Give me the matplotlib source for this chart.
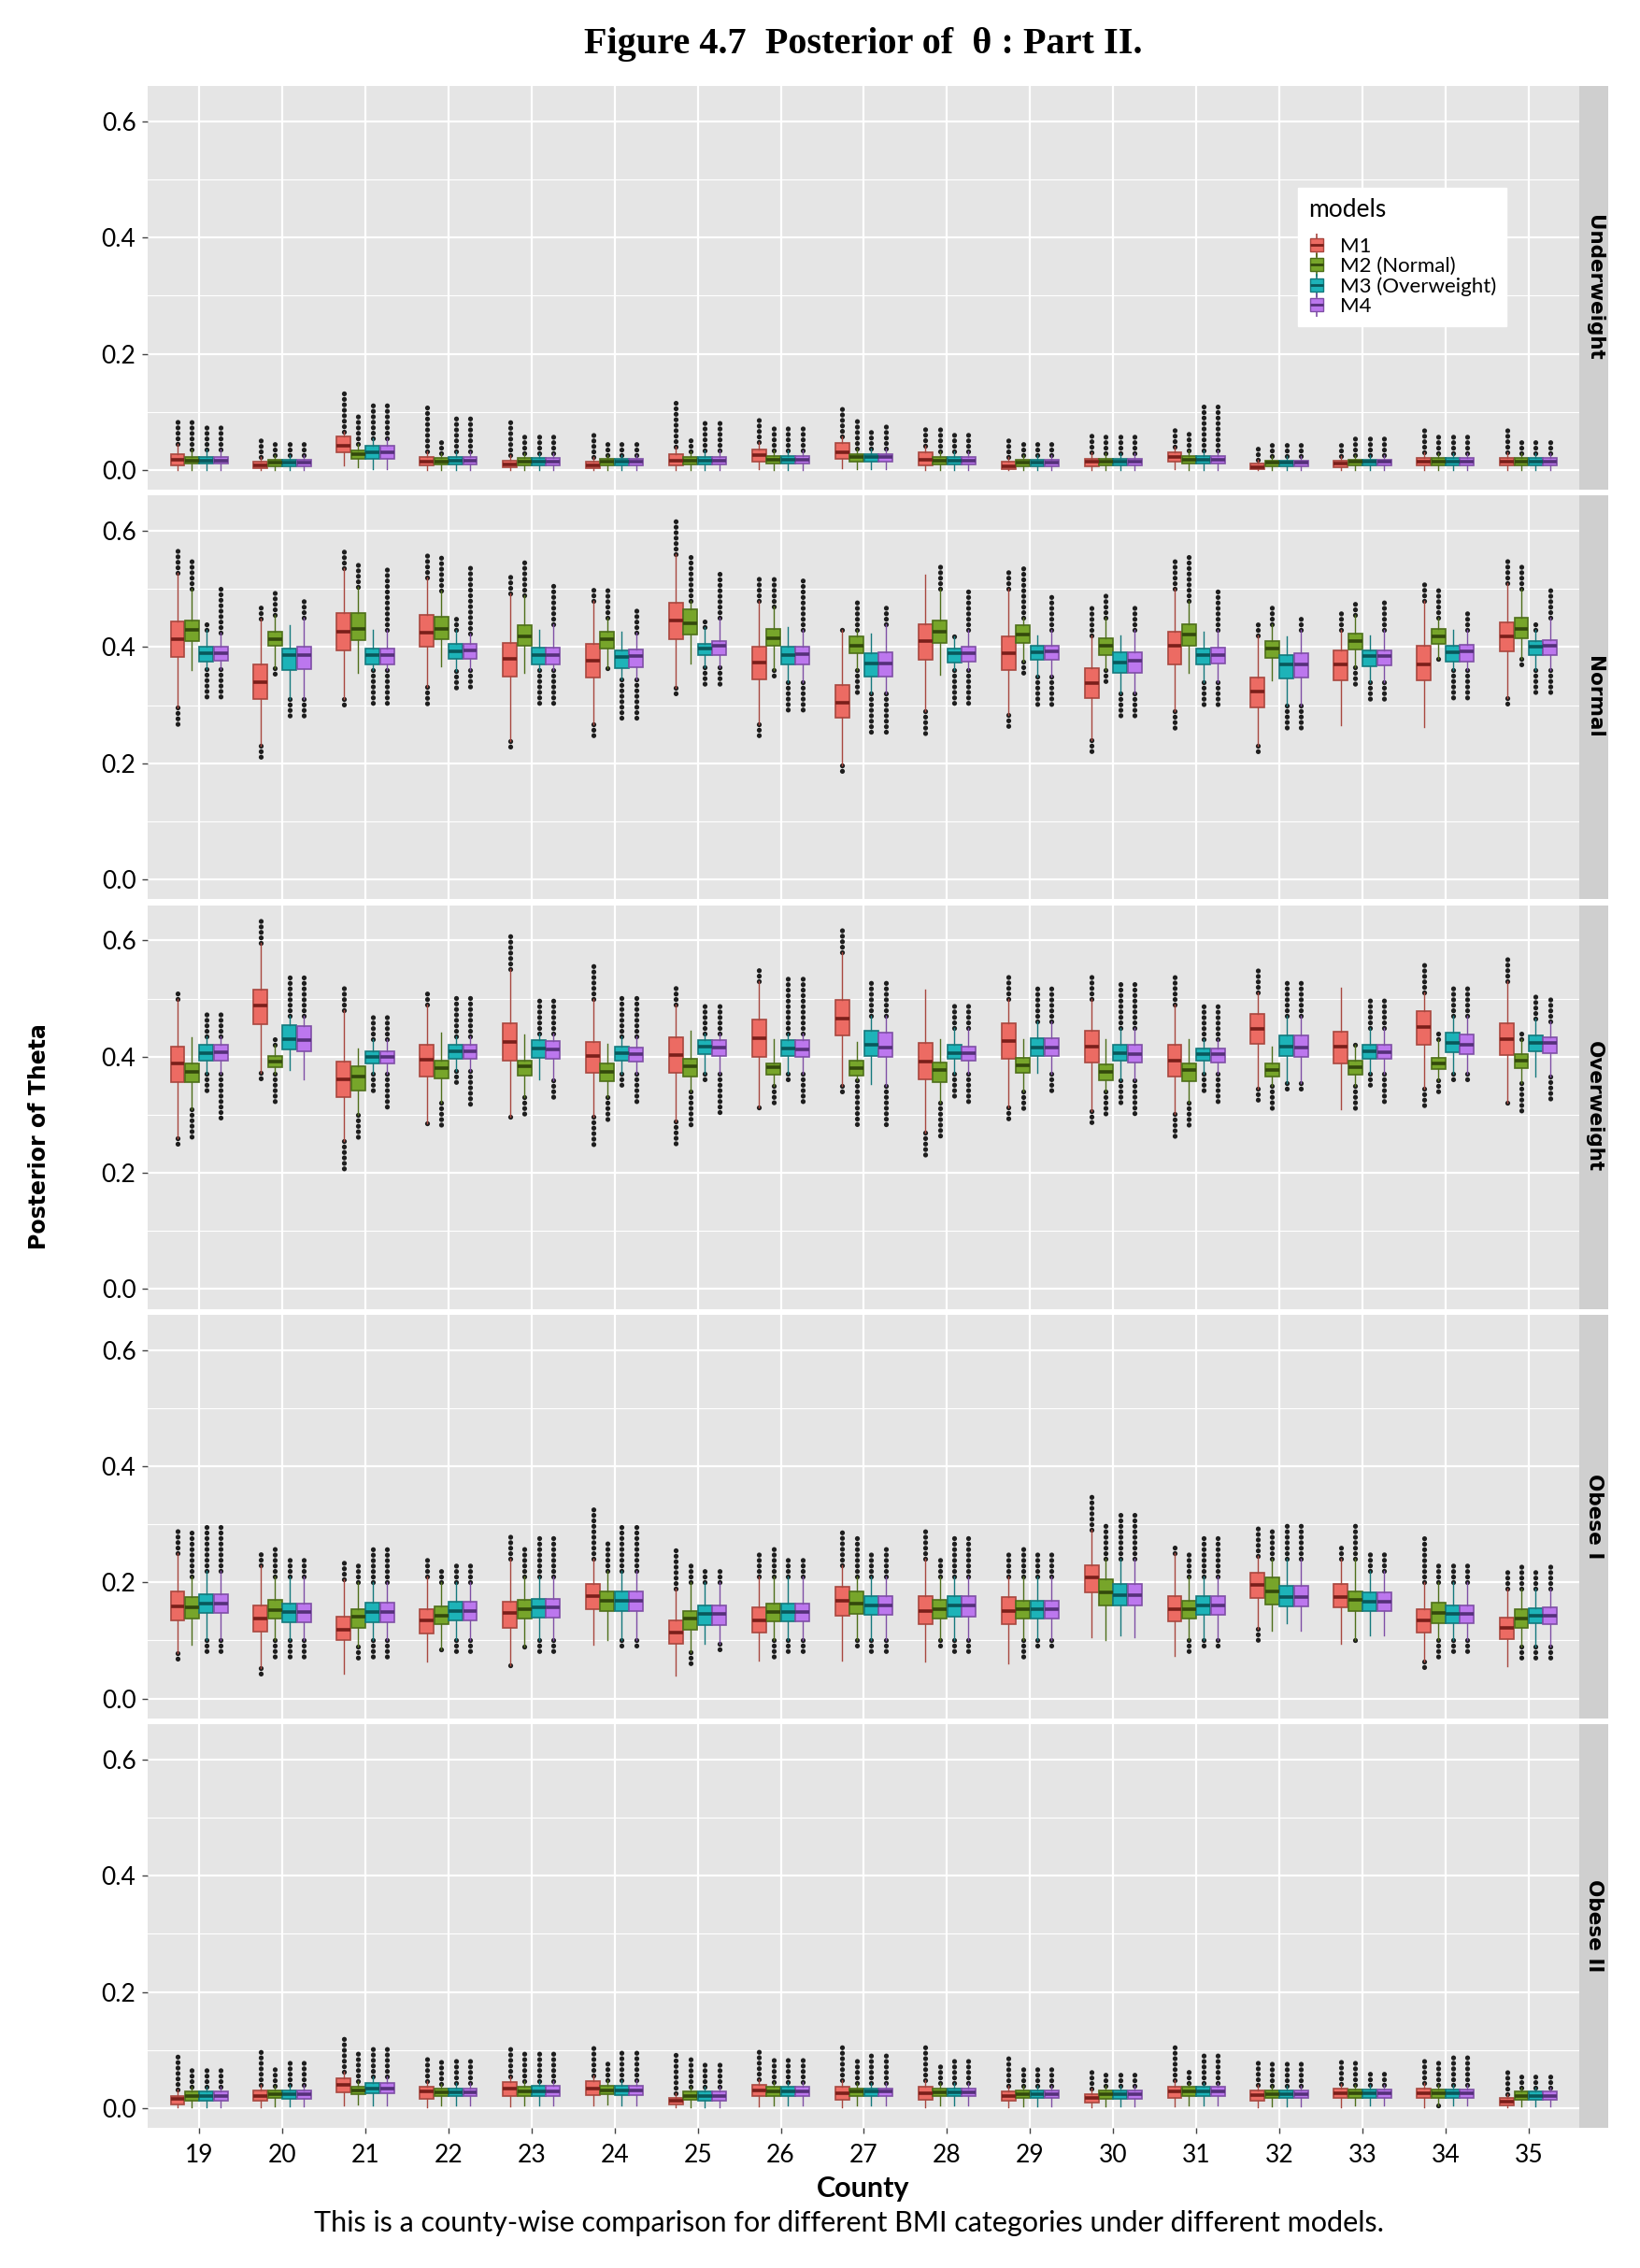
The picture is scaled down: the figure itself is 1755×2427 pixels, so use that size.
import numpy as np
import matplotlib
matplotlib.use("Agg")
import matplotlib.pyplot as plt
from matplotlib.lines import Line2D
from matplotlib.legend_handler import HandlerTuple

counties = list(range(19, 36))
models = ["M1", "M2 (Normal)", "M3 (Overweight)", "M4"]
categories = ["Underweight", "Normal", "Overweight", "Obese I", "Obese II"]

# one row per county:
# (lowest outlier, lower whisker, q1, median, q3, upper whisker, highest outlier)
uw_m1 = [(None, 0.0, 0.008, 0.018, 0.027, 0.045, 0.092), (None, 0.0, 0.003, 0.008, 0.014, 0.022, 0.060),
         (None, 0.008, 0.030, 0.042, 0.057, 0.065, 0.138), (None, 0.0, 0.008, 0.015, 0.022, 0.032, 0.114),
         (None, 0.0, 0.004, 0.009, 0.016, 0.025, 0.090), (None, 0.0, 0.003, 0.008, 0.014, 0.022, 0.065),
         (None, 0.0, 0.008, 0.016, 0.027, 0.040, 0.117), (None, 0.002, 0.014, 0.026, 0.035, 0.048, 0.087),
         (None, 0.003, 0.019, 0.030, 0.046, 0.058, 0.114), (None, 0.0, 0.008, 0.018, 0.030, 0.042, 0.071),
         (None, 0.0, 0.002, 0.007, 0.014, 0.022, 0.052), (None, 0.0, 0.007, 0.014, 0.019, 0.030, 0.062),
         (None, 0.002, 0.014, 0.022, 0.030, 0.040, 0.076), (None, 0.0, 0.002, 0.005, 0.011, 0.018, 0.043),
         (None, 0.0, 0.005, 0.011, 0.016, 0.024, 0.046), (None, 0.0, 0.008, 0.015, 0.020, 0.030, 0.073),
         (None, 0.0, 0.008, 0.015, 0.020, 0.030, 0.073)]
uw_m2 = [(None, 0.0, 0.011, 0.016, 0.022, 0.035, 0.087), (None, 0.0, 0.007, 0.012, 0.018, 0.026, 0.046),
         (None, 0.004, 0.019, 0.027, 0.033, 0.045, 0.100), (None, 0.0, 0.009, 0.015, 0.020, 0.028, 0.052),
         (None, 0.0, 0.008, 0.015, 0.020, 0.028, 0.057), (None, 0.0, 0.008, 0.014, 0.019, 0.026, 0.046),
         (None, 0.0, 0.009, 0.016, 0.022, 0.032, 0.057), (None, 0.0, 0.011, 0.018, 0.024, 0.034, 0.073),
         (None, 0.002, 0.015, 0.022, 0.027, 0.036, 0.087), (None, 0.0, 0.009, 0.016, 0.022, 0.032, 0.071),
         (None, 0.0, 0.007, 0.012, 0.018, 0.026, 0.049), (None, 0.0, 0.008, 0.014, 0.019, 0.028, 0.062),
         (None, 0.0, 0.011, 0.017, 0.024, 0.034, 0.071), (None, 0.0, 0.007, 0.012, 0.016, 0.024, 0.049),
         (None, 0.0, 0.008, 0.014, 0.018, 0.026, 0.057), (None, 0.0, 0.008, 0.015, 0.020, 0.028, 0.062),
         (None, 0.0, 0.008, 0.015, 0.020, 0.028, 0.054)]
uw_m3 = [(None, 0.0, 0.011, 0.016, 0.022, 0.035, 0.079), (None, 0.0, 0.007, 0.012, 0.018, 0.026, 0.049),
         (None, 0.002, 0.019, 0.030, 0.041, 0.055, 0.114), (None, 0.0, 0.009, 0.016, 0.022, 0.032, 0.092),
         (None, 0.0, 0.008, 0.015, 0.020, 0.028, 0.062), (None, 0.0, 0.008, 0.014, 0.019, 0.026, 0.046),
         (None, 0.0, 0.009, 0.016, 0.023, 0.034, 0.090), (None, 0.0, 0.011, 0.018, 0.024, 0.034, 0.073),
         (None, 0.002, 0.015, 0.022, 0.027, 0.036, 0.073), (None, 0.0, 0.009, 0.016, 0.022, 0.032, 0.068),
         (None, 0.0, 0.007, 0.012, 0.018, 0.026, 0.046), (None, 0.0, 0.008, 0.014, 0.019, 0.028, 0.062),
         (None, 0.0, 0.011, 0.017, 0.024, 0.034, 0.114), (None, 0.0, 0.007, 0.012, 0.016, 0.024, 0.046),
         (None, 0.0, 0.008, 0.014, 0.018, 0.026, 0.054), (None, 0.0, 0.008, 0.015, 0.020, 0.028, 0.060),
         (None, 0.0, 0.008, 0.015, 0.020, 0.028, 0.052)]
uw_m4 = [(None, 0.0, 0.011, 0.016, 0.022, 0.035, 0.079), (None, 0.0, 0.007, 0.012, 0.018, 0.026, 0.049),
         (None, 0.002, 0.019, 0.030, 0.041, 0.055, 0.114), (None, 0.0, 0.009, 0.016, 0.022, 0.032, 0.092),
         (None, 0.0, 0.008, 0.015, 0.020, 0.028, 0.062), (None, 0.0, 0.008, 0.014, 0.019, 0.026, 0.046),
         (None, 0.0, 0.009, 0.016, 0.023, 0.034, 0.090), (None, 0.0, 0.011, 0.018, 0.024, 0.034, 0.073),
         (None, 0.002, 0.015, 0.022, 0.027, 0.036, 0.079), (None, 0.0, 0.009, 0.016, 0.022, 0.032, 0.068),
         (None, 0.0, 0.007, 0.012, 0.018, 0.026, 0.049), (None, 0.0, 0.008, 0.014, 0.019, 0.028, 0.062),
         (None, 0.0, 0.011, 0.017, 0.024, 0.034, 0.114), (None, 0.0, 0.007, 0.012, 0.016, 0.024, 0.046),
         (None, 0.0, 0.008, 0.014, 0.018, 0.026, 0.054), (None, 0.0, 0.008, 0.015, 0.020, 0.028, 0.060),
         (None, 0.0, 0.008, 0.015, 0.020, 0.028, 0.052)]

nm_m1 = [(0.265, 0.297, 0.383, 0.413, 0.445, 0.528, 0.568), (0.209, 0.230, 0.310, 0.339, 0.371, 0.449, 0.469),
         (0.295, 0.311, 0.395, 0.427, 0.458, 0.536, 0.568), (0.295, 0.332, 0.401, 0.425, 0.456, 0.520, 0.558),
         (0.228, 0.238, 0.349, 0.380, 0.408, 0.493, 0.523), (0.246, 0.268, 0.347, 0.377, 0.406, 0.480, 0.501),
         (0.313, 0.330, 0.414, 0.446, 0.476, 0.560, 0.619), (0.246, 0.268, 0.344, 0.374, 0.401, 0.480, 0.523),
         (0.182, 0.196, 0.278, 0.305, 0.335, 0.429, 0.435), (0.244, 0.290, 0.379, 0.410, 0.439, 0.525, None),
         (0.263, 0.284, 0.360, 0.389, 0.419, 0.500, 0.537), (0.214, 0.240, 0.312, 0.338, 0.364, 0.420, 0.472),
         (0.257, 0.290, 0.371, 0.402, 0.426, 0.500, 0.557), (0.220, 0.230, 0.297, 0.324, 0.348, 0.420, 0.445),
         (None, 0.265, 0.343, 0.371, 0.394, 0.430, 0.466), (None, 0.263, 0.343, 0.371, 0.402, 0.480, 0.514),
         (0.297, 0.313, 0.392, 0.418, 0.442, 0.510, 0.552)]
nm_m2 = [(None, 0.360, 0.410, 0.429, 0.446, 0.501, 0.549), (0.348, 0.364, 0.402, 0.413, 0.426, 0.455, 0.496),
         (None, 0.356, 0.412, 0.432, 0.458, 0.504, 0.549), (None, 0.367, 0.413, 0.432, 0.453, 0.498, 0.560),
         (None, 0.356, 0.403, 0.419, 0.437, 0.490, 0.552), (0.357, 0.364, 0.397, 0.413, 0.427, 0.450, 0.506),
         (None, 0.372, 0.421, 0.441, 0.465, 0.480, 0.560), (0.351, 0.360, 0.403, 0.416, 0.431, 0.470, 0.523),
         (0.319, 0.360, 0.389, 0.403, 0.418, 0.430, 0.478), (None, 0.353, 0.407, 0.427, 0.446, 0.500, 0.547),
         (0.348, 0.375, 0.407, 0.422, 0.437, 0.450, 0.539), (0.338, 0.360, 0.387, 0.402, 0.415, 0.450, 0.493),
         (None, 0.356, 0.403, 0.421, 0.439, 0.480, 0.560), (None, 0.343, 0.382, 0.397, 0.410, 0.440, 0.469),
         (0.330, 0.365, 0.396, 0.410, 0.423, 0.455, 0.480), (0.372, 0.380, 0.405, 0.418, 0.431, 0.450, 0.506),
         (0.364, 0.380, 0.415, 0.432, 0.450, 0.500, 0.539)]
nm_m3 = [(0.308, 0.362, 0.375, 0.389, 0.401, 0.429, 0.439), (0.279, 0.311, 0.361, 0.387, 0.398, 0.437, None),
         (0.300, 0.360, 0.371, 0.386, 0.397, 0.429, None), (0.327, 0.359, 0.380, 0.393, 0.405, 0.429, 0.451),
         (0.295, 0.360, 0.371, 0.387, 0.399, 0.429, None), (0.273, 0.345, 0.364, 0.383, 0.394, 0.426, None),
         (0.330, 0.365, 0.387, 0.398, 0.405, 0.434, 0.445), (0.284, 0.340, 0.370, 0.387, 0.401, 0.435, None),
         (0.249, 0.320, 0.349, 0.372, 0.389, 0.423, None), (0.300, 0.360, 0.374, 0.389, 0.397, 0.418, 0.423),
         (0.297, 0.350, 0.378, 0.391, 0.402, 0.420, None), (0.273, 0.320, 0.356, 0.374, 0.391, 0.420, None),
         (0.297, 0.340, 0.371, 0.386, 0.397, 0.426, None), (0.260, 0.300, 0.346, 0.370, 0.387, 0.418, None),
         (0.311, 0.340, 0.367, 0.384, 0.395, 0.420, None), (0.311, 0.360, 0.375, 0.391, 0.402, 0.430, None),
         (0.320, 0.360, 0.387, 0.401, 0.410, 0.430, 0.447)]
nm_m4 = [(0.308, 0.362, 0.376, 0.390, 0.401, 0.425, 0.506), (0.279, 0.311, 0.362, 0.387, 0.401, 0.450, 0.482),
         (0.300, 0.360, 0.371, 0.386, 0.397, 0.429, 0.539), (0.330, 0.360, 0.380, 0.394, 0.405, 0.423, 0.540),
         (0.295, 0.360, 0.371, 0.387, 0.399, 0.440, 0.509), (0.273, 0.345, 0.366, 0.385, 0.396, 0.425, 0.464),
         (0.330, 0.365, 0.387, 0.402, 0.410, 0.450, 0.531), (0.284, 0.340, 0.370, 0.388, 0.401, 0.430, 0.520),
         (0.249, 0.320, 0.349, 0.372, 0.391, 0.440, 0.473), (0.300, 0.360, 0.375, 0.389, 0.401, 0.430, 0.497),
         (0.297, 0.350, 0.378, 0.393, 0.403, 0.430, 0.490), (0.273, 0.320, 0.356, 0.376, 0.391, 0.430, 0.472),
         (0.297, 0.340, 0.372, 0.387, 0.399, 0.430, 0.501), (0.260, 0.300, 0.347, 0.371, 0.389, 0.430, 0.455),
         (0.311, 0.340, 0.368, 0.385, 0.395, 0.430, 0.480), (0.311, 0.360, 0.375, 0.392, 0.404, 0.430, 0.464),
         (0.320, 0.360, 0.387, 0.402, 0.412, 0.450, 0.501)]

ow_m1 = [(0.243, 0.259, 0.356, 0.389, 0.418, 0.500, 0.516), (0.362, 0.372, 0.456, 0.488, 0.516, 0.596, 0.634),
         (0.206, 0.254, 0.330, 0.361, 0.391, 0.480, 0.524), (0.278, 0.286, 0.365, 0.395, 0.421, 0.490, 0.516),
         (0.291, 0.297, 0.393, 0.425, 0.457, 0.550, 0.612), (0.249, 0.297, 0.372, 0.401, 0.426, 0.500, 0.564),
         (0.246, 0.289, 0.373, 0.403, 0.433, 0.490, 0.527), (0.307, 0.313, 0.400, 0.432, 0.464, 0.530, 0.556),
         (0.332, 0.350, 0.436, 0.466, 0.497, 0.580, 0.618), (0.230, 0.270, 0.361, 0.391, 0.424, 0.516, None),
         (0.294, 0.313, 0.397, 0.427, 0.457, 0.500, 0.540), (0.286, 0.307, 0.390, 0.418, 0.445, 0.500, 0.545),
         (0.254, 0.302, 0.366, 0.393, 0.420, 0.490, 0.545), (0.318, 0.345, 0.422, 0.448, 0.474, 0.510, 0.552),
         (None, 0.310, 0.389, 0.417, 0.443, 0.519, None), (0.313, 0.345, 0.421, 0.451, 0.478, 0.510, 0.563),
         (0.318, 0.321, 0.403, 0.430, 0.458, 0.530, 0.570)]
ow_m2 = [(0.259, 0.310, 0.356, 0.374, 0.389, 0.433, None), (0.323, 0.370, 0.382, 0.391, 0.401, 0.420, 0.436),
         (0.254, 0.300, 0.342, 0.366, 0.383, 0.414, None), (0.278, 0.320, 0.363, 0.380, 0.393, 0.441, None),
         (0.294, 0.330, 0.367, 0.383, 0.393, 0.438, None), (0.286, 0.330, 0.358, 0.374, 0.389, 0.422, None),
         (0.281, 0.340, 0.366, 0.384, 0.397, 0.444, None), (0.313, 0.350, 0.369, 0.382, 0.388, 0.430, None),
         (0.278, 0.360, 0.367, 0.381, 0.393, 0.425, None), (0.262, 0.320, 0.356, 0.377, 0.390, 0.430, None),
         (0.307, 0.340, 0.372, 0.385, 0.398, 0.430, None), (0.297, 0.340, 0.360, 0.374, 0.387, 0.430, None),
         (0.281, 0.320, 0.357, 0.377, 0.388, 0.430, None), (0.310, 0.350, 0.366, 0.377, 0.388, 0.417, None),
         (0.307, 0.350, 0.369, 0.382, 0.393, 0.420, 0.429), (0.332, 0.360, 0.378, 0.389, 0.398, 0.430, 0.445),
         (0.302, 0.355, 0.380, 0.393, 0.405, 0.430, 0.444)]
ow_m3 = [(0.337, 0.370, 0.393, 0.406, 0.420, 0.435, 0.481), (None, 0.377, 0.412, 0.430, 0.455, 0.470, 0.545),
         (0.340, 0.370, 0.388, 0.400, 0.410, 0.430, 0.473), (0.356, 0.375, 0.397, 0.409, 0.420, 0.435, 0.505),
         (None, 0.361, 0.398, 0.414, 0.428, 0.440, 0.503), (0.348, 0.370, 0.393, 0.406, 0.417, 0.435, 0.503),
         (0.361, 0.370, 0.404, 0.417, 0.429, 0.440, 0.492), (0.361, 0.370, 0.401, 0.414, 0.429, 0.440, 0.537),
         (None, 0.353, 0.401, 0.420, 0.444, 0.470, 0.535), (0.326, 0.370, 0.396, 0.406, 0.420, 0.450, 0.492),
         (None, 0.372, 0.401, 0.415, 0.432, 0.460, 0.521), (0.318, 0.360, 0.393, 0.406, 0.421, 0.450, 0.527),
         (0.334, 0.370, 0.393, 0.405, 0.414, 0.430, 0.489), (0.342, 0.355, 0.401, 0.417, 0.436, 0.470, 0.535),
         (0.345, 0.370, 0.396, 0.409, 0.421, 0.450, 0.503), (0.353, 0.370, 0.408, 0.424, 0.441, 0.470, 0.519),
         (None, 0.366, 0.409, 0.424, 0.436, 0.465, 0.511)]
ow_m4 = [(0.294, 0.370, 0.393, 0.407, 0.420, 0.435, 0.481), (None, 0.361, 0.409, 0.428, 0.453, 0.470, 0.545),
         (0.307, 0.370, 0.388, 0.400, 0.410, 0.430, 0.473), (0.313, 0.375, 0.396, 0.409, 0.420, 0.435, 0.505),
         (0.324, 0.360, 0.397, 0.413, 0.427, 0.440, 0.503), (0.316, 0.370, 0.391, 0.404, 0.416, 0.435, 0.503),
         (0.302, 0.370, 0.401, 0.416, 0.429, 0.440, 0.492), (0.318, 0.370, 0.399, 0.413, 0.429, 0.440, 0.537),
         (0.278, 0.350, 0.399, 0.416, 0.441, 0.470, 0.535), (0.321, 0.370, 0.393, 0.406, 0.418, 0.450, 0.492),
         (0.340, 0.370, 0.401, 0.415, 0.431, 0.460, 0.521), (0.300, 0.360, 0.390, 0.404, 0.420, 0.450, 0.527),
         (0.321, 0.370, 0.390, 0.404, 0.414, 0.430, 0.489), (0.342, 0.355, 0.399, 0.415, 0.436, 0.470, 0.535),
         (0.318, 0.370, 0.396, 0.408, 0.420, 0.450, 0.503), (0.353, 0.370, 0.405, 0.421, 0.438, 0.470, 0.519),
         (0.326, 0.366, 0.406, 0.423, 0.434, 0.460, 0.500)]

ob1_m1 = [(0.064, 0.079, 0.135, 0.158, 0.184, 0.250, 0.293), (0.043, 0.052, 0.116, 0.137, 0.161, 0.230, 0.248),
          (None, 0.043, 0.101, 0.119, 0.141, 0.205, 0.237), (None, 0.063, 0.112, 0.134, 0.154, 0.210, 0.240),
          (0.051, 0.058, 0.122, 0.148, 0.167, 0.240, 0.288), (None, 0.093, 0.154, 0.177, 0.198, 0.240, 0.328),
          (None, 0.039, 0.095, 0.114, 0.135, 0.190, 0.256), (None, 0.066, 0.114, 0.135, 0.157, 0.210, 0.248),
          (None, 0.066, 0.143, 0.169, 0.193, 0.230, 0.288), (None, 0.063, 0.128, 0.150, 0.176, 0.240, 0.296),
          (None, 0.060, 0.128, 0.150, 0.174, 0.210, 0.253), (None, 0.106, 0.182, 0.208, 0.229, 0.290, 0.357),
          (None, 0.074, 0.133, 0.154, 0.177, 0.250, 0.266), (0.098, 0.120, 0.173, 0.195, 0.216, 0.245, 0.301),
          (None, 0.095, 0.157, 0.175, 0.197, 0.240, 0.265), (0.050, 0.063, 0.114, 0.134, 0.154, 0.200, 0.277),
          (None, 0.055, 0.103, 0.121, 0.139, 0.190, 0.224)]
ob1_m2 = [(None, 0.093, 0.138, 0.157, 0.174, 0.210, 0.288), (0.066, 0.100, 0.138, 0.153, 0.170, 0.210, 0.261),
          (0.063, 0.090, 0.122, 0.141, 0.154, 0.200, 0.229), (0.082, 0.085, 0.128, 0.143, 0.158, 0.200, 0.226),
          (0.085, 0.090, 0.137, 0.154, 0.170, 0.210, 0.264), (None, 0.100, 0.150, 0.169, 0.185, 0.220, 0.274),
          (0.052, 0.080, 0.119, 0.138, 0.151, 0.200, 0.237), (0.068, 0.100, 0.133, 0.149, 0.164, 0.210, 0.258),
          (0.087, 0.100, 0.146, 0.164, 0.185, 0.210, 0.280), (0.087, 0.100, 0.137, 0.154, 0.170, 0.210, 0.240),
          (0.068, 0.100, 0.137, 0.154, 0.169, 0.210, 0.264), (None, 0.100, 0.161, 0.182, 0.205, 0.240, 0.304),
          (0.079, 0.100, 0.138, 0.154, 0.169, 0.210, 0.250), (None, 0.117, 0.162, 0.184, 0.208, 0.240, 0.296),
          (0.095, 0.100, 0.151, 0.170, 0.185, 0.240, 0.304), (0.071, 0.100, 0.130, 0.148, 0.165, 0.200, 0.237),
          (0.066, 0.090, 0.122, 0.138, 0.154, 0.190, 0.232)]
ob1_m3 = [(0.077, 0.100, 0.148, 0.163, 0.180, 0.220, 0.304), (0.063, 0.100, 0.132, 0.149, 0.164, 0.210, 0.242),
          (0.066, 0.100, 0.132, 0.149, 0.165, 0.200, 0.258), (0.074, 0.100, 0.135, 0.151, 0.167, 0.200, 0.234),
          (0.074, 0.100, 0.139, 0.157, 0.171, 0.210, 0.277), (0.085, 0.100, 0.150, 0.169, 0.185, 0.220, 0.304),
          (None, 0.095, 0.127, 0.146, 0.160, 0.200, 0.221), (0.074, 0.100, 0.133, 0.149, 0.164, 0.210, 0.242),
          (0.082, 0.100, 0.144, 0.160, 0.177, 0.210, 0.248), (0.082, 0.100, 0.141, 0.160, 0.177, 0.210, 0.283),
          (0.087, 0.100, 0.137, 0.154, 0.169, 0.210, 0.248), (None, 0.108, 0.161, 0.178, 0.197, 0.240, 0.317),
          (0.087, 0.100, 0.144, 0.160, 0.176, 0.210, 0.283), (None, 0.130, 0.158, 0.175, 0.194, 0.240, 0.304),
          (None, 0.108, 0.151, 0.167, 0.183, 0.220, 0.253), (0.075, 0.100, 0.130, 0.146, 0.160, 0.200, 0.234),
          (0.063, 0.090, 0.130, 0.142, 0.156, 0.190, 0.218)]
ob1_m4 = [(0.077, 0.100, 0.148, 0.163, 0.180, 0.220, 0.304), (0.063, 0.100, 0.132, 0.149, 0.164, 0.210, 0.242),
          (0.066, 0.100, 0.132, 0.149, 0.165, 0.200, 0.258), (0.074, 0.100, 0.135, 0.151, 0.167, 0.200, 0.234),
          (0.074, 0.100, 0.139, 0.157, 0.171, 0.210, 0.277), (0.085, 0.100, 0.150, 0.169, 0.185, 0.220, 0.304),
          (0.077, 0.095, 0.127, 0.146, 0.160, 0.200, 0.221), (0.074, 0.100, 0.133, 0.149, 0.164, 0.210, 0.242),
          (0.082, 0.100, 0.144, 0.160, 0.177, 0.210, 0.266), (0.082, 0.100, 0.141, 0.160, 0.177, 0.210, 0.283),
          (0.087, 0.100, 0.137, 0.154, 0.169, 0.210, 0.248), (None, 0.106, 0.161, 0.178, 0.197, 0.240, 0.317),
          (0.087, 0.100, 0.144, 0.160, 0.176, 0.210, 0.283), (None, 0.117, 0.158, 0.175, 0.194, 0.240, 0.304),
          (None, 0.108, 0.151, 0.167, 0.183, 0.220, 0.253), (0.075, 0.100, 0.130, 0.146, 0.160, 0.200, 0.234),
          (0.063, 0.090, 0.128, 0.142, 0.157, 0.190, 0.232)]

ob2_m1 = [(None, 0.002, 0.006, 0.016, 0.021, 0.032, 0.092), (None, 0.002, 0.012, 0.021, 0.030, 0.040, 0.100),
          (None, 0.004, 0.027, 0.040, 0.052, 0.062, 0.124), (None, 0.002, 0.016, 0.028, 0.036, 0.046, 0.092),
          (None, 0.003, 0.020, 0.033, 0.045, 0.055, 0.111), (None, 0.004, 0.022, 0.034, 0.047, 0.056, 0.108),
          (None, 0.002, 0.006, 0.012, 0.017, 0.026, 0.095), (None, 0.003, 0.020, 0.030, 0.040, 0.050, 0.103),
          (None, 0.002, 0.014, 0.025, 0.036, 0.048, 0.108), (None, 0.002, 0.014, 0.025, 0.036, 0.048, 0.111),
          (None, 0.002, 0.012, 0.020, 0.029, 0.038, 0.092), (None, 0.002, 0.009, 0.018, 0.024, 0.034, 0.065),
          (None, 0.003, 0.017, 0.028, 0.036, 0.048, 0.111), (None, 0.002, 0.012, 0.022, 0.030, 0.040, 0.081),
          (None, 0.002, 0.017, 0.025, 0.033, 0.042, 0.087), (None, 0.002, 0.017, 0.025, 0.034, 0.044, 0.084),
          (None, 0.001, 0.004, 0.011, 0.017, 0.024, 0.065)]
ob2_m2 = [(None, 0.002, 0.013, 0.021, 0.029, 0.036, 0.071), (None, 0.003, 0.017, 0.024, 0.030, 0.038, 0.076),
          (None, 0.006, 0.024, 0.030, 0.036, 0.046, 0.095), (None, 0.004, 0.020, 0.027, 0.033, 0.042, 0.087),
          (None, 0.005, 0.021, 0.029, 0.037, 0.046, 0.100), (None, 0.006, 0.024, 0.030, 0.039, 0.048, 0.084),
          (None, 0.002, 0.014, 0.021, 0.028, 0.036, 0.089), (None, 0.004, 0.021, 0.029, 0.036, 0.045, 0.084),
          (None, 0.004, 0.020, 0.028, 0.034, 0.043, 0.084), (None, 0.004, 0.020, 0.027, 0.034, 0.043, 0.081),
          (None, 0.003, 0.017, 0.024, 0.030, 0.038, 0.068), (None, 0.003, 0.016, 0.024, 0.030, 0.038, 0.063),
          (None, 0.004, 0.020, 0.028, 0.036, 0.044, 0.068), (None, 0.003, 0.017, 0.024, 0.030, 0.038, 0.081),
          (None, 0.004, 0.018, 0.025, 0.032, 0.040, 0.084), (0.002, 0.004, 0.018, 0.025, 0.032, 0.040, 0.079),
          (None, 0.003, 0.014, 0.021, 0.028, 0.035, 0.057)]
ob2_m3 = [(None, 0.002, 0.013, 0.021, 0.029, 0.036, 0.068), (None, 0.003, 0.016, 0.024, 0.031, 0.040, 0.081),
          (None, 0.004, 0.025, 0.034, 0.044, 0.054, 0.105), (None, 0.004, 0.020, 0.027, 0.034, 0.043, 0.089),
          (None, 0.004, 0.021, 0.029, 0.038, 0.047, 0.095), (None, 0.005, 0.023, 0.031, 0.039, 0.048, 0.100),
          (None, 0.002, 0.013, 0.021, 0.029, 0.037, 0.081), (None, 0.004, 0.021, 0.029, 0.036, 0.045, 0.089),
          (None, 0.004, 0.020, 0.028, 0.034, 0.043, 0.100), (None, 0.004, 0.020, 0.027, 0.034, 0.043, 0.089),
          (None, 0.003, 0.017, 0.024, 0.030, 0.038, 0.071), (None, 0.003, 0.016, 0.024, 0.030, 0.038, 0.063),
          (None, 0.004, 0.020, 0.028, 0.036, 0.044, 0.097), (None, 0.003, 0.017, 0.024, 0.030, 0.038, 0.081),
          (None, 0.004, 0.018, 0.025, 0.032, 0.040, 0.063), (None, 0.004, 0.018, 0.025, 0.032, 0.040, 0.097),
          (None, 0.003, 0.014, 0.021, 0.028, 0.035, 0.057)]
ob2_m4 = [(None, 0.002, 0.013, 0.021, 0.029, 0.036, 0.068), (None, 0.003, 0.016, 0.024, 0.031, 0.040, 0.081),
          (None, 0.004, 0.025, 0.034, 0.044, 0.054, 0.105), (None, 0.004, 0.020, 0.027, 0.034, 0.043, 0.089),
          (None, 0.004, 0.021, 0.029, 0.038, 0.047, 0.100), (None, 0.005, 0.023, 0.031, 0.039, 0.048, 0.100),
          (None, 0.002, 0.013, 0.021, 0.029, 0.037, 0.081), (None, 0.004, 0.021, 0.029, 0.036, 0.045, 0.089),
          (None, 0.004, 0.020, 0.028, 0.034, 0.043, 0.100), (None, 0.004, 0.020, 0.027, 0.034, 0.043, 0.089),
          (None, 0.003, 0.017, 0.024, 0.030, 0.038, 0.071), (None, 0.003, 0.016, 0.024, 0.030, 0.038, 0.063),
          (None, 0.004, 0.020, 0.028, 0.036, 0.044, 0.097), (None, 0.003, 0.017, 0.024, 0.030, 0.038, 0.081),
          (None, 0.004, 0.018, 0.025, 0.032, 0.040, 0.063), (None, 0.004, 0.018, 0.025, 0.032, 0.040, 0.097),
          (None, 0.003, 0.014, 0.021, 0.028, 0.035, 0.057)]

panel_data = {
    "Underweight": [uw_m1, uw_m2, uw_m3, uw_m4],
    "Normal": [nm_m1, nm_m2, nm_m3, nm_m4],
    "Overweight": [ow_m1, ow_m2, ow_m3, ow_m4],
    "Obese I": [ob1_m1, ob1_m2, ob1_m3, ob1_m4],
    "Obese II": [ob2_m1, ob2_m2, ob2_m3, ob2_m4],
}

face = ["#EC6B63", "#77A52A", "#1DB3B8", "#BC77EE"]
edge = ["#A8473F", "#4E6F1A", "#14797D", "#7F4FA6"]
medc = ["#7A1F1A", "#33490C", "#08585B", "#55307A"]

W, H = 1755, 2427
fig = plt.figure(figsize=(W / 100, H / 100), dpi=100)
fig.patch.set_facecolor("white")

tickfont = "Lato"
offsets = [-0.26, -0.087, 0.087, 0.26]
bw = 0.168
dots = (0, (0.01, 1.1))

for r, cat in enumerate(categories):
    top = 92 + r * 438.25
    ax = fig.add_axes([158 / W, 1 - (top + 432) / H, 1532 / W, 432 / H])
    ax.set_facecolor("#E5E5E5")
    ax.set_xlim(-0.62, 16.61)
    ax.set_ylim(-0.034, 0.661)
    ax.set_yticks([0.0, 0.2, 0.4, 0.6])
    ax.set_yticks([0.1, 0.3, 0.5], minor=True)
    ax.set_yticklabels(["0.0", "0.2", "0.4", "0.6"], fontsize=19, family=tickfont)
    ax.set_xticks(range(len(counties)))
    ax.grid(which="major", color="white", lw=1.6)
    ax.grid(which="minor", axis="y", color="white", lw=0.8)
    ax.set_axisbelow(True)
    for s in ax.spines.values():
        s.set_visible(False)
    ax.tick_params(axis="y", which="major", length=4, width=1, color="#444444", pad=5)
    ax.tick_params(axis="y", which="minor", length=0)
    if r == len(categories) - 1:
        ax.set_xticklabels(counties, fontsize=19, family=tickfont)
        ax.tick_params(axis="x", length=4, width=1, color="#444444", pad=8)
    else:
        ax.set_xticklabels([])
        ax.tick_params(axis="x", length=0)

    for j, rows in enumerate(panel_data[cat]):
        pos = np.arange(len(counties)) + offsets[j]
        stats = []
        for row in rows:
            lo_o, lo_w, q1, med, q3, hi_w, hi_o = row
            stats.append(dict(whislo=min(lo_w, q1), q1=q1, med=med, q3=q3,
                              whishi=max(hi_w, q3), fliers=[]))
        ax.bxp(stats, positions=pos, widths=bw, patch_artist=True,
               showfliers=False, showcaps=False, manage_ticks=False,
               boxprops=dict(facecolor=face[j], edgecolor=edge[j], lw=1.2),
               medianprops=dict(color=medc[j], lw=2.6, solid_capstyle="butt"),
               whiskerprops=dict(color=edge[j], lw=1.0))
        # outliers drawn as a dotted column from the whisker end to the extreme value
        for x, row in zip(pos, rows):
            lo_o, lo_w, q1, med, q3, hi_w, hi_o = row
            if hi_o is not None:
                ax.plot([x, x], [max(hi_w, q3), hi_o], color="#1E1E1E", lw=3.8,
                        linestyle=dots, dash_capstyle="round", zorder=1.5)
            if lo_o is not None:
                ax.plot([x, x], [min(lo_w, q1), lo_o], color="#1E1E1E", lw=3.8,
                        linestyle=dots, dash_capstyle="round", zorder=1.5)

    # facet strip on the right
    sax = fig.add_axes([1690 / W, 1 - (top + 432) / H, 31 / W, 432 / H])
    sax.set_facecolor("#CFCFCF")
    sax.set_xticks([])
    sax.set_yticks([])
    for s in sax.spines.values():
        s.set_visible(False)
    sax.text(0.5, 0.5, cat, rotation=-90, ha="center", va="center", fontsize=15.5,
             fontweight="bold", family="DejaVu Sans", transform=sax.transAxes)

# legend
handles = []
for j in range(4):
    handles.append((
        Line2D([0], [0], lw=0, marker="|", markersize=18, markeredgewidth=1.2, color=edge[j]),
        Line2D([0], [0], lw=0, marker="s", markersize=10, markerfacecolor=face[j],
               markeredgecolor=edge[j]),
        Line2D([0], [0], lw=0, marker="_", markersize=10, markeredgewidth=2, color=medc[j]),
    ))
leg = fig.legend(handles, models, handler_map={tuple: HandlerTuple(ndivide=1)},
                 loc="upper left", bbox_to_anchor=(1378 / W, 1 - 190 / H),
                 title="models", alignment="left", frameon=True, fancybox=False,
                 facecolor="white", edgecolor="white", framealpha=1,
                 prop=dict(family=tickfont, size=16), title_fontproperties=dict(family=tickfont, size=19),
                 handlelength=0.8, handletextpad=0.7, labelspacing=0.05, borderpad=0.5)
leg._legend_box.sep = 12

fig.text(924 / W, 1 - 48 / H, "Figure 4.7  Posterior of  \u03b8 : Part II.", ha="center", va="center",
         fontsize=29, fontweight="bold", family="Liberation Serif")
fig.text(42 / W, 1 - 1216 / H, "Posterior of Theta", rotation=90, ha="center", va="center",
         fontsize=17, fontweight="bold", family="DejaVu Sans")
fig.text(924 / W, 1 - 2342 / H, "County", ha="center", va="center", fontsize=22,
         fontweight="bold", family=tickfont)
fig.text(908 / W, 1 - 2379 / H,
         "This is a county-wise comparison for different BMI categories under different models.",
         ha="center", va="center", fontsize=22, family=tickfont)

fig.savefig("out.png", dpi=100)
